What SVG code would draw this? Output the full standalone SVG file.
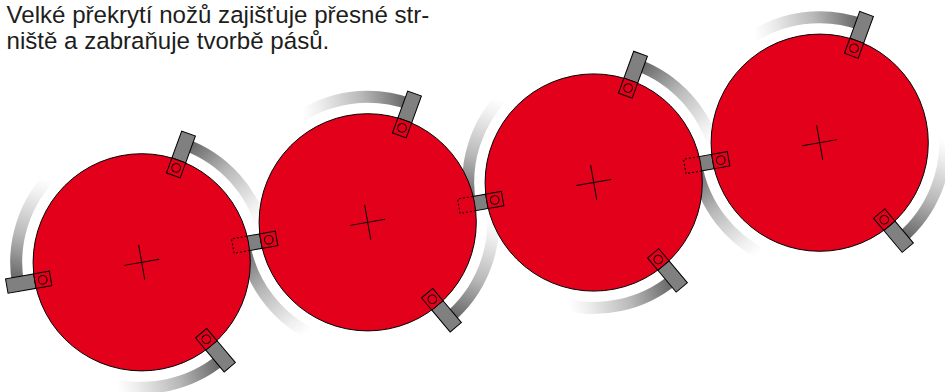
<svg xmlns="http://www.w3.org/2000/svg" xmlns:xlink="http://www.w3.org/1999/xlink" width="945" height="392" viewBox="0 0 945 392">
<style>
.disc{fill:#e2001a;stroke:#000;stroke-width:1}
.bar{fill:#808080;stroke:#000;stroke-width:1}
.sq{fill:#e2001a;stroke:#000;stroke-width:1}
.hole{fill:none;stroke:#000;stroke-width:1}
.cross{fill:none;stroke:#000;stroke-width:1}
.dot{fill:none;stroke:#000;stroke-width:1;stroke-dasharray:2 2}
.t{font-family:"Liberation Sans",Arial,sans-serif;font-size:24.1px;fill:#1d1d1b}
</style>
<defs>
<linearGradient id="gc" gradientUnits="userSpaceOnUse" x1="125.5" y1="0" x2="70" y2="104"><stop offset="0.03" stop-color="#666"/><stop offset="0.4" stop-color="#b8b8b8"/><stop offset="0.78" stop-color="#f0f0f0"/><stop offset="0.92" stop-color="#fff"/></linearGradient>
<linearGradient id="gw" gradientUnits="userSpaceOnUse" x1="125.5" y1="0" x2="70" y2="-104"><stop offset="0.03" stop-color="#666"/><stop offset="0.4" stop-color="#b8b8b8"/><stop offset="0.78" stop-color="#f0f0f0"/><stop offset="0.92" stop-color="#fff"/></linearGradient>
<path id="arcCW" d="M125.5,0A125.5,125.5 0 0 1 70.2,104" fill="none" stroke="url(#gc)" stroke-width="12"/>
<path id="arcCCW" d="M125.5,0A125.5,125.5 0 0 0 70.2,-104" fill="none" stroke="url(#gw)" stroke-width="12"/>
<rect id="b" class="bar" x="108" y="-7.3" width="29" height="14.6"/>
<g id="h"><rect class="sq" x="92.5" y="-7.3" width="16" height="14.6"/><circle class="hole" cx="100.5" cy="0" r="4.3"/></g>
<path id="x" class="cross" d="M-17.7,0H17.7M0,-17.7V17.7"/>
</defs>
<g id="tools">
<use href="#arcCW" transform="translate(141.7 262.3) rotate(170)"/>
<use href="#arcCW" transform="translate(141.7 262.3) rotate(50)"/>
<use href="#arcCW" transform="translate(141.7 262.3) rotate(-70)"/>
<use href="#arcCCW" transform="translate(367.7 222.3) rotate(170)"/>
<use href="#arcCCW" transform="translate(367.7 222.3) rotate(50)"/>
<use href="#arcCCW" transform="translate(367.7 222.3) rotate(-70)"/>
<use href="#arcCW" transform="translate(593.7 182.5) rotate(170)"/>
<use href="#arcCW" transform="translate(593.7 182.5) rotate(50)"/>
<use href="#arcCW" transform="translate(593.7 182.5) rotate(-70)"/>
<use href="#arcCCW" transform="translate(819.7 142.7) rotate(170)"/>
<use href="#arcCCW" transform="translate(819.7 142.7) rotate(50)"/>
<use href="#arcCCW" transform="translate(819.7 142.7) rotate(-70)"/>
<use href="#b" transform="translate(141.7 262.3) rotate(170)"/>
<use href="#b" transform="translate(141.7 262.3) rotate(50)"/>
<use href="#b" transform="translate(141.7 262.3) rotate(-70)"/>
<use href="#b" transform="translate(367.7 222.3) rotate(170)"/>
<use href="#b" transform="translate(367.7 222.3) rotate(50)"/>
<use href="#b" transform="translate(367.7 222.3) rotate(-70)"/>
<use href="#b" transform="translate(593.7 182.5) rotate(170)"/>
<use href="#b" transform="translate(593.7 182.5) rotate(50)"/>
<use href="#b" transform="translate(593.7 182.5) rotate(-70)"/>
<use href="#b" transform="translate(819.7 142.7) rotate(170)"/>
<use href="#b" transform="translate(819.7 142.7) rotate(50)"/>
<use href="#b" transform="translate(819.7 142.7) rotate(-70)"/>
</g>
<g id="disc1"><circle class="disc" cx="141.7" cy="262.3" r="108.6"/><use href="#x" transform="translate(141.7 262.3) rotate(-10)"/><use href="#h" transform="translate(141.7 262.3) rotate(170)"/><use href="#h" transform="translate(141.7 262.3) rotate(50)"/><use href="#h" transform="translate(141.7 262.3) rotate(-70)"/></g>
<g id="disc2"><circle class="disc" cx="367.7" cy="222.3" r="108.6"/><use href="#x" transform="translate(367.7 222.3) rotate(-10)"/><use href="#h" transform="translate(367.7 222.3) rotate(170)"/><use href="#h" transform="translate(367.7 222.3) rotate(50)"/><use href="#h" transform="translate(367.7 222.3) rotate(-70)"/></g>
<g id="disc3"><circle class="disc" cx="593.7" cy="182.5" r="108.6"/><use href="#x" transform="translate(593.7 182.5) rotate(-10)"/><use href="#h" transform="translate(593.7 182.5) rotate(170)"/><use href="#h" transform="translate(593.7 182.5) rotate(50)"/><use href="#h" transform="translate(593.7 182.5) rotate(-70)"/></g>
<g id="disc4"><circle class="disc" cx="819.7" cy="142.7" r="108.6"/><use href="#x" transform="translate(819.7 142.7) rotate(-10)"/><use href="#h" transform="translate(819.7 142.7) rotate(170)"/><use href="#h" transform="translate(819.7 142.7) rotate(50)"/><use href="#h" transform="translate(819.7 142.7) rotate(-70)"/></g>
<g id="hidden">
<path class="dot" transform="translate(367.7 222.3) rotate(170)" d="M121,-7.3H137V7.3H121"/>
<path class="dot" transform="translate(593.7 182.5) rotate(170)" d="M121,-7.3H137V7.3H121"/>
<path class="dot" transform="translate(819.7 142.7) rotate(170)" d="M121,-7.3H137V7.3H121"/>
</g>
<g id="caption">
<text class="t" x="6.5" y="23">Velké překrytí nožů zajišťuje přesné str-</text>
<text class="t" x="6.5" y="49">niště a zabraňuje tvorbě pásů.</text>
</g>
</svg>
